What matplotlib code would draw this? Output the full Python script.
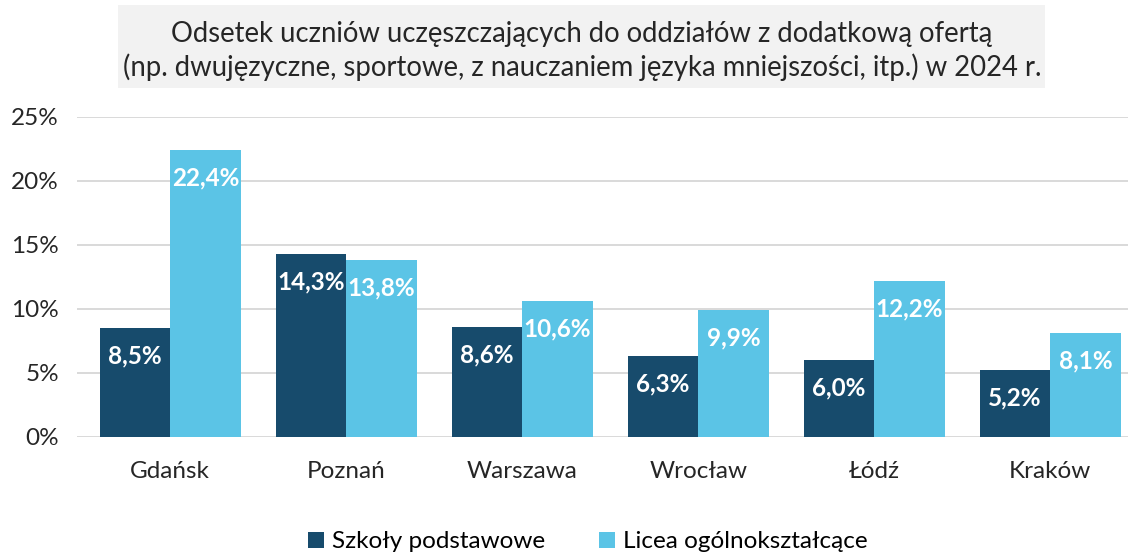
import numpy as np
import matplotlib.pyplot as plt
from matplotlib.patches import Rectangle

plt.rcParams['font.family'] = ['Lato', 'DejaVu Sans']

cities = ["Gdańsk", "Poznań", "Warszawa", "Wrocław", "Łódź", "Kraków"]
podstawowe = [8.5, 14.3, 8.6, 6.3, 6.0, 5.2]
licea = [22.4, 13.8, 10.6, 9.9, 12.2, 8.1]
series_names = ["Szkoły podstawowe", "Licea ogólnokształcące"]
yticks = [0, 5, 10, 15, 20, 25]

dark = "#174b6c"
light = "#5bc4e6"

fig = plt.figure(figsize=(11.3, 5.53), dpi=100)
ax = fig.add_axes([0.068, 0.2098, 0.930, 0.5787])

x = np.arange(len(cities))
w = 0.4
b1 = ax.bar(x - w / 2, podstawowe, w, color=dark, label=series_names[0])
b2 = ax.bar(x + w / 2, licea, w, color=light, label=series_names[1])

for bars, vals in ((b1, podstawowe), (b2, licea)):
    for rect, v in zip(bars, vals):
        ax.annotate(f"{v:.1f}%".replace(".", ","),
                    (rect.get_x() + rect.get_width() / 2, v),
                    xytext=(0, -20), textcoords="offset points",
                    ha="center", va="center", color="white",
                    fontsize=17.5, fontweight="bold")

ax.set_ylim(0, 25)
ax.set_xlim(-0.53, 5.44)
ax.set_yticks(yticks)
ax.set_yticklabels([f"{t}%" for t in yticks])
ax.set_xticks(x)
ax.set_xticklabels(cities)
ax.tick_params(axis="both", length=0, labelsize=17.5, colors="#262626")
ax.tick_params(axis="x", pad=17)
ax.tick_params(axis="y", pad=13)
ax.grid(axis="y", color="#d9d9d9", linewidth=1.4)
ax.set_axisbelow(True)
for s in ax.spines.values():
    s.set_visible(False)

fig.patches.append(Rectangle((118 / 1130, 1 - 88 / 553), (1045 - 118) / 1130,
                             83 / 553, transform=fig.transFigure,
                             facecolor="#f2f2f2", edgecolor="none", zorder=0))
fig.text(582 / 1130, 1 - 51 / 553,
         "Odsetek uczniów uczęszczających do oddziałów z dodatkową ofertą\n"
         "(np. dwujęzyczne, sportowe, z nauczaniem języka mniejszości, itp.) w 2024 r.",
         ha="center", va="center", fontsize=19.8, color="#262626",
         linespacing=1.32)

fig.legend(handles=[b1, b2], loc="center", bbox_to_anchor=(588 / 1130, 1 - 542 / 553),
           ncol=2, frameon=False, fontsize=17.5, handlelength=0.65,
           handleheight=0.65, columnspacing=2.2, handletextpad=0.35)

fig.savefig("out.png", dpi=100)
